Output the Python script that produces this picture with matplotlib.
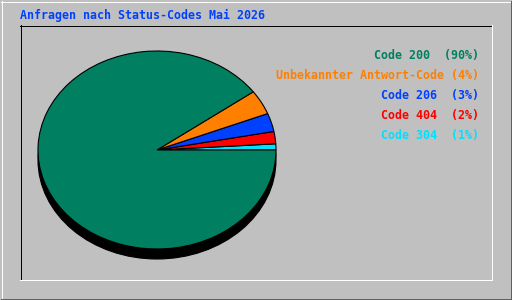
import matplotlib
matplotlib.use("Agg")
import matplotlib.pyplot as plt
from matplotlib.patches import Circle
from matplotlib.lines import Line2D

# data
title = "Anfragen nach Status-Codes Mai 2026"
labels = ["Code 200  (90%)", "Unbekannter Antwort-Code (4%)", "Code 206  (3%)",
          "Code 404  (2%)", "Code 304  (1%)"]
percents = [90, 4, 3, 2, 1]
colors = ["#008060", "#FF8000", "#0040FF", "#FF0000", "#00E0FF"]

W, H = 512, 300
fig = plt.figure(figsize=(W / 100, H / 100), dpi=100)
fig.patch.set_facecolor("#C0C0C0")

# frames in pixel coords
bg = fig.add_axes([0, 0, 1, 1])
bg.set_xlim(0, W)
bg.set_ylim(H, 0)
bg.axis("off")
def hline(x0, x1, y, c):
    bg.add_line(Line2D([x0, x1], [y, y], color=c, lw=0.72, snap=True))
def vline(x, y0, y1, c):
    bg.add_line(Line2D([x, x], [y0, y1], color=c, lw=0.72, snap=True))
hline(1, 510, 1.5, "white")
vline(1.5, 1, 298, "white")
hline(1, 511, 298.5, "#606060")
vline(510.5, 1, 299, "#606060")
hline(20, 491, 25.5, "black")
vline(20.5, 25, 279, "black")
hline(20, 492, 279.5, "white")
vline(491.5, 25, 280, "white")

bg.text(20, 15, title, color="#0040FF", fontsize=8.4, family="DejaVu Sans Mono",
        weight="bold", ha="left", va="center")

for i, (lab, c) in enumerate(zip(labels, colors)):
    bg.text(479, 55 + 20 * i, lab, color=c, fontsize=8.4, family="DejaVu Sans Mono",
            weight="bold", ha="right", va="center")

# pie: centre (157,150), rx 119, ry 99, depth 10 px
cx, cy, rx, ry, depth = 157, 150, 119, 99, 10
ax = fig.add_axes([(cx - rx) / W, (H - cy - ry) / H, 2 * rx / W, 2 * ry / H])
ax.set_facecolor("none")
ax.add_patch(Circle((0, -depth / ry), 1, facecolor="black", edgecolor="black",
                    lw=0.8, clip_on=False, zorder=0))
wedges, _ = ax.pie(percents[::-1], colors=colors[::-1], startangle=0, counterclock=True,
                   radius=1, center=(0, 0),
                   wedgeprops=dict(edgecolor="black", linewidth=0.8))
for w in wedges:
    w.set_clip_on(False)
    w.set_zorder(2)
ax.set_aspect("auto")
ax.set_xlim(-1, 1)
ax.set_ylim(-1, 1)
ax.axis("off")

fig.savefig("out.png", dpi=100, facecolor=fig.get_facecolor())
